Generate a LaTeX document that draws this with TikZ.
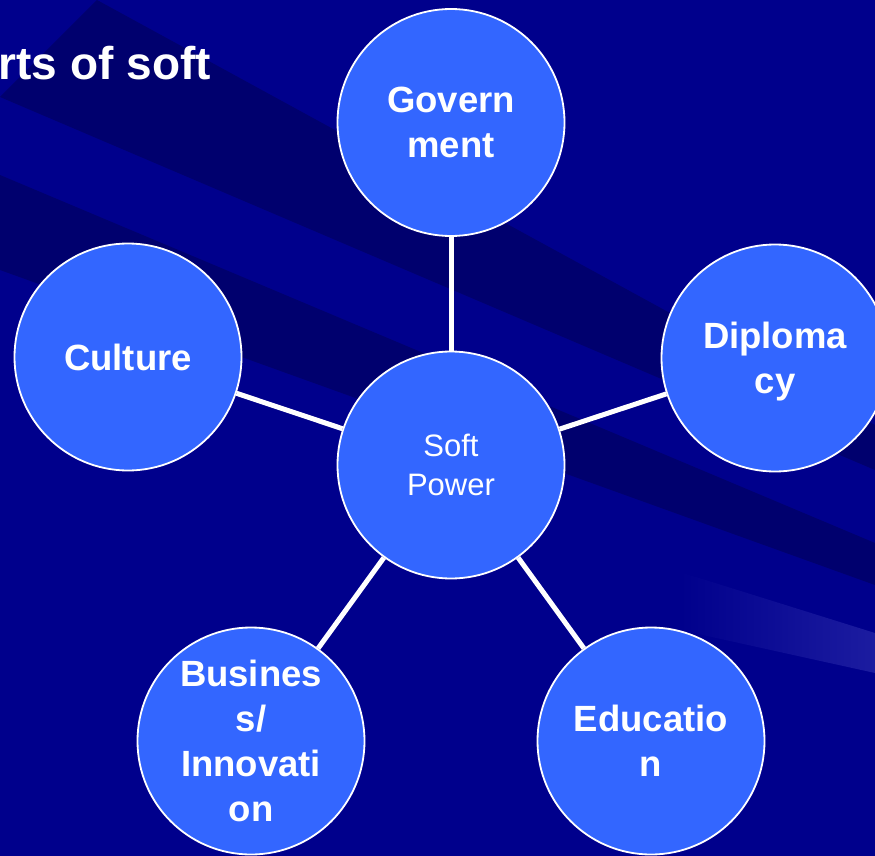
\documentclass[tikz,border=0pt]{standalone}
\usepackage{fontspec}
\setmainfont{Liberation Sans}
\usetikzlibrary{positioning}
\definecolor{bgblue}{RGB}{0,0,140}
\definecolor{bandblue}{RGB}{0,0,110}
\definecolor{rayblue}{RGB}{28,28,160}
\definecolor{hubblue}{RGB}{51,102,255}
\tikzset{%
	hub/.style   = {circle, draw=white, line width=1.8pt, fill=hubblue, minimum size=227pt, inner sep=0pt, text=white, align=center, text depth=0pt},
	spoke/.style = {hub, font=\bfseries\fontsize{36.5}{45}\selectfont},
	core/.style  = {hub, font=\fontsize{31}{39}\selectfont},
	link/.style  = {draw=white, line width=5pt},
	heading/.style = {text=white, font=\bfseries\fontsize{46}{55}\selectfont, inner sep=0pt},
}

\begin{document}
\begin{tikzpicture}[x=1pt,y=-1pt]
	\useasboundingbox (0,0) rectangle (875,856);
	\clip (0,0) rectangle (875,856);
	% background with diagonal bands
	\fill[bgblue] (0,0) rectangle (875,856);
	\fill[bandblue] (97,0) -- (875,425) -- (875,470) -- (0,97) -- cycle;
	\fill[bandblue] (0,175) -- (875,543) -- (875,585) -- (0,270) -- cycle;
	\shade[left color=bgblue, right color=rayblue] (680,572) -- (875,633) -- (875,673) -- (680,630) -- cycle;

	\node[heading, anchor=base east] (title) at (211,80) {rts of soft};

	\node[core]  (soft) at (451,465)   {Soft\\Power};
	\node[spoke] (gov)  at (451,122.5) {Govern\\ment};
	\node[spoke] (dip)  at (775,358)   {Diploma\\cy};
	\node[spoke] (cul)  at (128,357)   {Culture};
	\node[spoke] (bus)  at (251,741)   {Busines\\s/\\Innovati\\on};
	\node[spoke] (edu)  at (651,741)   {Educatio\\n};

	\draw[link] (soft) -- (gov);
	\draw[link] (soft) -- (dip);
	\draw[link] (soft) -- (cul);
	\draw[link] (soft) -- (bus);
	\draw[link] (soft) -- (edu);
\end{tikzpicture}
\end{document}
